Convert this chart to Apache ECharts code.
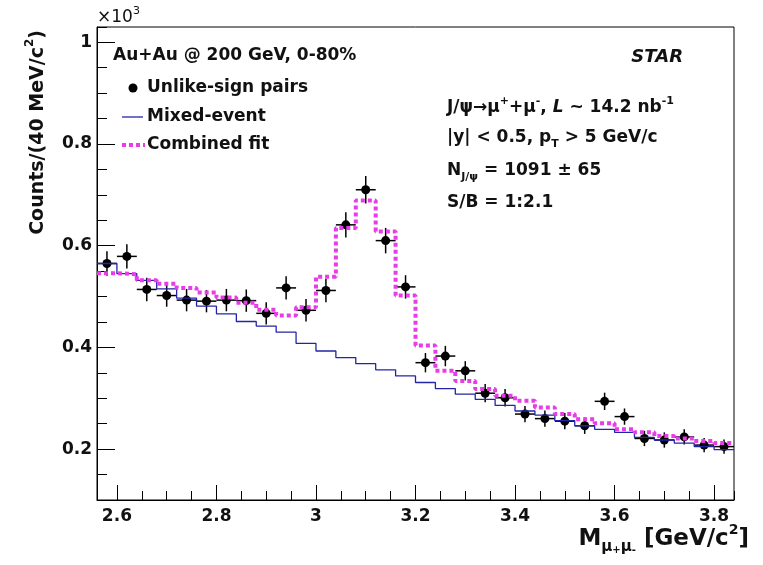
<!DOCTYPE html>
<html>
<head>
<meta charset="utf-8">
<title>STAR J/psi to mu+ mu- invariant mass</title>
<script src="https://cdn.jsdelivr.net/npm/echarts@6.0.0/dist/echarts.min.js"></script>
<style>
  html, body { margin: 0; padding: 0; background: #fff; }
  #chart { width: 763px; height: 565px; }
</style>
</head>
<body>
<div id="chart"></div>
<script>
// bin centres in GeV/c^2, 40 MeV wide
const massBins = [2.58, 2.62, 2.66, 2.70, 2.74, 2.78, 2.82, 2.86, 2.90, 2.94, 2.98, 3.02, 3.06, 3.10, 3.14, 3.18,
                  3.22, 3.26, 3.30, 3.34, 3.38, 3.42, 3.46, 3.50, 3.54, 3.58, 3.62, 3.66, 3.70, 3.74, 3.78, 3.82];
// counts x10^3
const unlikeSign = [0.565, 0.579, 0.514, 0.502, 0.493, 0.491, 0.493, 0.492, 0.467, 0.517, 0.473, 0.512, 0.641, 0.710, 0.610, 0.519,
                    0.370, 0.383, 0.354, 0.310, 0.301, 0.269, 0.260, 0.255, 0.246, 0.294, 0.264, 0.221, 0.218, 0.224, 0.208, 0.205];
const unlikeSignErr = [0.024, 0.024, 0.023, 0.022, 0.022, 0.022, 0.022, 0.022, 0.022, 0.023, 0.022, 0.023, 0.025, 0.027, 0.025, 0.023,
                       0.019, 0.020, 0.019, 0.018, 0.017, 0.016, 0.016, 0.016, 0.016, 0.017, 0.016, 0.015, 0.015, 0.015, 0.014, 0.014];
const mixedEvent = [0.565, 0.545, 0.532, 0.515, 0.497, 0.481, 0.466, 0.451, 0.442, 0.430, 0.408, 0.393, 0.380, 0.368, 0.356, 0.344,
                    0.331, 0.319, 0.308, 0.298, 0.286, 0.275, 0.267, 0.256, 0.246, 0.239, 0.233, 0.223, 0.218, 0.212, 0.205, 0.199];
const combinedFit = [0.546, 0.544, 0.532, 0.525, 0.517, 0.508, 0.498, 0.488, 0.474, 0.463, 0.479, 0.539, 0.635, 0.689, 0.628, 0.502,
                     0.404, 0.354, 0.334, 0.318, 0.305, 0.295, 0.282, 0.269, 0.259, 0.251, 0.239, 0.233, 0.226, 0.221, 0.216, 0.212];
const halfBin = 0.02;

const FONT = 'DejaVu Sans';

// histogram outline: left edge of every bin, plus the right edge of the last one
function histo(values) {
    const pts = values.map((v, i) => [+(massBins[i] - halfBin).toFixed(2), v]);
    pts.push([+(massBins[massBins.length - 1] + halfBin).toFixed(2), values[values.length - 1]]);
    return pts;
}

const bold = (size, extra) => Object.assign({ fontFamily: FONT, fontWeight: 'bold', fontSize: size, fill: '#111' }, extra || {});
const richSmall = {
    sup: bold(11, { lineHeight: 10, verticalAlign: 'top' }),
    sub: bold(11, { lineHeight: 10, verticalAlign: 'bottom' }),
    it: bold(17, { fontStyle: 'italic', lineHeight: 24 })
};

function label(x, y, text, extra) {
    return {
        type: 'text', x: x, y: y, z: 100,
        style: Object.assign(bold(17, { text: text, lineHeight: 24, rich: richSmall, verticalAlign: 'middle', align: 'left' }), extra || {})
    };
}

const chart = echarts.init(document.getElementById('chart'));

const tickLabel = { color: '#111', fontFamily: FONT, fontWeight: 'bold', fontSize: 17 };

const option = {
    animation: false,
    backgroundColor: '#fff',
    grid: { left: 97, right: 29, top: 27, bottom: 65, show: true, borderColor: '#000', borderWidth: 1 },
    xAxis: [
        {
            type: 'value', min: 2.56, max: 3.84, position: 'bottom',
            splitNumber: 6, minInterval: 0.2, maxInterval: 0.2,
            axisLine: { show: true, onZero: false, lineStyle: { color: '#000', width: 1 } },
            axisTick: { show: true, inside: true, length: 15, lineStyle: { color: '#000', width: 1 } },
            axisLabel: Object.assign({ margin: 8, showMinLabel: false, showMaxLabel: false }, tickLabel),
            splitLine: { show: false }
        },
        {
            type: 'value', min: 2.56, max: 3.84, position: 'bottom',
            splitNumber: 25, minInterval: 0.05, maxInterval: 0.05,
            axisLine: { show: false },
            axisTick: { show: true, inside: true, length: 9, lineStyle: { color: '#000', width: 1 } },
            axisLabel: { show: false },
            splitLine: { show: false }
        }
    ],
    yAxis: [
        {
            type: 'value', min: 0.1, max: 1.03, position: 'left',
            splitNumber: 5, minInterval: 0.2, maxInterval: 0.2,
            axisLine: { show: true, onZero: false, lineStyle: { color: '#000', width: 1 } },
            axisTick: { show: true, inside: true, length: 18, lineStyle: { color: '#000', width: 1 } },
            axisLabel: Object.assign({ margin: 5, showMinLabel: false, showMaxLabel: false }, tickLabel),
            splitLine: { show: false }
        },
        {
            type: 'value', min: 0.1, max: 1.03, position: 'left',
            splitNumber: 18, minInterval: 0.05, maxInterval: 0.05,
            axisLine: { show: false },
            axisTick: { show: true, inside: true, length: 10, lineStyle: { color: '#000', width: 1 } },
            axisLabel: { show: false },
            splitLine: { show: false }
        }
    ],
    series: [
        {
            name: 'Unlike-sign pairs errors',
            type: 'custom',
            z: 2,
            data: massBins.map((m, i) => [m, unlikeSign[i], unlikeSignErr[i]]),
            encode: { x: 0, y: 1 },
            renderItem: function (params, api) {
                const x = api.value(0), y = api.value(1), e = api.value(2);
                const lo = api.coord([x, y - e]), hi = api.coord([x, y + e]);
                const l = api.coord([x - halfBin, y]), r = api.coord([x + halfBin, y]);
                const style = { stroke: '#000', lineWidth: 1.5 };
                return {
                    type: 'group',
                    children: [
                        { type: 'line', shape: { x1: lo[0], y1: lo[1], x2: hi[0], y2: hi[1] }, style: style },
                        { type: 'line', shape: { x1: l[0], y1: l[1], x2: r[0], y2: r[1] }, style: style }
                    ]
                };
            }
        },
        {
            name: 'Unlike-sign pairs',
            type: 'scatter',
            z: 2,
            symbol: 'circle',
            symbolSize: 9,
            itemStyle: { color: '#000', opacity: 1 },
            data: massBins.map((m, i) => [m, unlikeSign[i]])
        },
        {
            name: 'Mixed-event',
            type: 'line',
            z: 3,
            step: 'end',
            symbol: 'none',
            lineStyle: { color: '#2424a8', width: 1.3 },
            data: histo(mixedEvent)
        },
        {
            name: 'Combined fit',
            type: 'line',
            z: 4,
            step: 'end',
            symbol: 'none',
            lineStyle: { color: '#e83ce8', width: 4, type: [4, 3] },
            data: histo(combinedFit)
        }
    ],
    graphic: [
        // x10^3 multiplier
        {
            type: 'text', x: 97, y: 18,
            style: {
                text: '×10{s|3}', fontFamily: FONT, fontSize: 17, fill: '#111', lineHeight: 24,
                verticalAlign: 'middle', align: 'left',
                rich: { s: { fontFamily: FONT, fontSize: 11, fill: '#111', lineHeight: 10, verticalAlign: 'top' } }
            }
        },
        // y title
        {
            type: 'text', x: 38, y: 30, rotation: Math.PI / 2,
            style: {
                text: 'Counts/(40 MeV/c{s|2})', fontFamily: FONT, fontWeight: 'bold', fontSize: 19, fill: '#111',
                lineHeight: 28, align: 'right', verticalAlign: 'middle',
                rich: { s: bold(12, { lineHeight: 12, verticalAlign: 'top' }) }
            }
        },
        // x title
        {
            type: 'text', x: 749, y: 539,
            style: {
                text: 'M{b|μ}{bs|+}{b|μ}{bs|-} [GeV/c{s|2}]', fontFamily: FONT, fontWeight: 'bold', fontSize: 23, fill: '#111',
                lineHeight: 32, align: 'right', verticalAlign: 'middle',
                rich: {
                    b: bold(15, { lineHeight: 12, verticalAlign: 'bottom' }),
                    bs: bold(10, { lineHeight: 24, verticalAlign: 'bottom' }),
                    s: bold(14, { lineHeight: 12, verticalAlign: 'top' })
                }
            }
        },
        // legend
        label(113, 56, 'Au+Au @ 200 GeV, 0-80%'),
        { type: 'circle', z: 100, shape: { cx: 133, cy: 88, r: 4.5 }, style: { fill: '#000' } },
        label(147, 88, 'Unlike-sign pairs'),
        { type: 'line', z: 100, shape: { x1: 122, y1: 117, x2: 143, y2: 117 }, style: { stroke: '#2424a8', lineWidth: 1.3 } },
        label(147, 117, 'Mixed-event'),
        { type: 'line', z: 100, shape: { x1: 122, y1: 145, x2: 145, y2: 145 }, style: { stroke: '#e83ce8', lineWidth: 4, lineDash: [4, 3] } },
        label(147, 145, 'Combined fit'),
        // experiment and fit results
        label(683, 57, 'STAR', { align: 'right', fontStyle: 'italic', fontSize: 18 }),
        label(447, 108, 'J/ψ→μ{sup|+}+μ{sup|-}, {it|L} ~ 14.2 nb{sup|-1}'),
        label(447, 138, '|y| < 0.5, p{sub|T} > 5 GeV/c'),
        label(447, 171, 'N{sub|J/ψ} = 1091 ± 65'),
        label(447, 203, 'S/B = 1:2.1')
    ]
};

chart.setOption(option);
</script>
</body>
</html>
